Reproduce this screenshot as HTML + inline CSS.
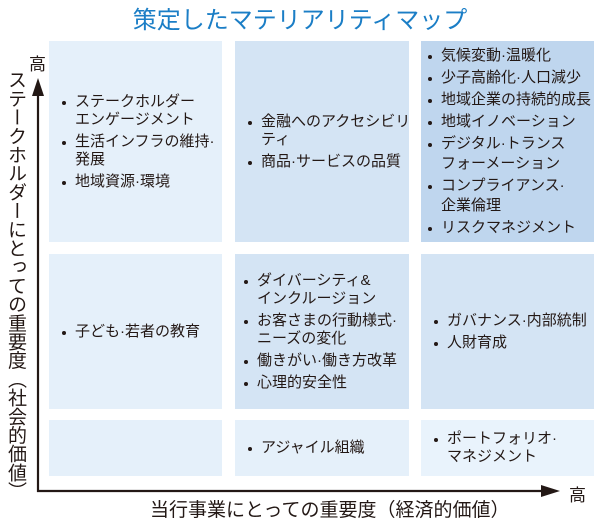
<!DOCTYPE html>
<html><head><meta charset="utf-8"><style>
body{margin:0;width:600px;height:523px;background:#fff;position:relative;overflow:hidden;font-family:"Liberation Sans","Noto Sans CJK JP",sans-serif;color:#231815}
.t{position:absolute;left:0;width:600px;top:0px;text-align:center;color:#1b7ec6;font-size:24px;letter-spacing:0px}
.c{position:absolute;box-sizing:border-box;padding-left:12px;display:flex;flex-direction:column;justify-content:center;font-size:15px}
.l{background:#e5f0fa}.m{background:#d4e4f4}.d{background:#bfd6ee}.x{background:#e9f3fc}
ul{margin:0;padding:0;list-style:none}
li{position:relative;padding-left:14px;line-height:18px;margin:4px 0;white-space:nowrap}
li:before{content:"";position:absolute;left:1px;top:8px;width:4px;height:4px;border-radius:50%;background:#231815}
.tight li{margin:2px 0;line-height:20px}
.tight li:before{top:9px}
</style></head><body>
<div class="t">策定したマテリアリティマップ</div>
<div class="c l" style="left:49px;top:41px;width:173px;height:201px"><ul><li>ステークホルダー<br>エンゲージメント</li><li>生活インフラの維持·<br>発展</li><li>地域資源·環境</li></ul></div>
<div class="c m" style="left:235px;top:41px;width:174px;height:201px"><ul><li>金融へのアクセシビリ<br>ティ</li><li>商品·サービスの品質</li></ul></div>
<div class="c d tight" style="left:421px;top:41px;width:173px;height:201px;padding-left:6px"><ul><li>気候変動·温暖化</li><li>少子高齢化·人口減少</li><li>地域企業の持続的成長</li><li>地域イノベーション</li><li>デジタル·トランス<br>フォーメーション</li><li>コンプライアンス·<br>企業倫理</li><li>リスクマネジメント</li></ul></div>
<div class="c l" style="left:49px;top:254px;width:173px;height:155px"><ul><li>子ども·若者の教育</li></ul></div>
<div class="c m" style="left:235px;top:254px;width:174px;height:155px;padding-left:8px"><ul><li>ダイバーシティ&amp;<br>インクルージョン</li><li>お客さまの行動様式·<br>ニーズの変化</li><li>働きがい·働き方改革</li><li>心理的安全性</li></ul></div>
<div class="c m" style="left:421px;top:254px;width:173px;height:155px"><ul><li>ガバナンス·内部統制</li><li>人財育成</li></ul></div>
<div class="c l" style="left:49px;top:420px;width:173px;height:56px"></div>
<div class="c l" style="left:235px;top:420px;width:174px;height:56px"><ul><li>アジャイル組織</li></ul></div>
<div class="c x" style="left:421px;top:420px;width:173px;height:56px"><ul><li>ポートフォリオ·<br>マネジメント</li></ul></div>
<svg style="position:absolute;left:0;top:0" width="600" height="523">
<line x1="38" y1="492" x2="38" y2="92" stroke="#231815" stroke-width="2.2"/>
<polygon points="38,78 32,96 44,96" fill="#231815"/>
<line x1="37" y1="491" x2="545" y2="491" stroke="#231815" stroke-width="2.2"/>
<polygon points="560,491 541,485 541,497" fill="#231815"/>
</svg>
<div style="position:absolute;left:29px;top:50px;font-size:17px">高</div>
<div style="position:absolute;left:569px;top:481px;font-size:17px">高</div>
<div style="position:absolute;left:3px;top:70px;writing-mode:vertical-rl;font-size:19px;line-height:24px;letter-spacing:-0.3px">ステークホルダーにとっての重要度（社会的価値）</div>
<div style="position:absolute;left:150px;top:495px;font-size:19px">当行事業にとっての重要度（経済的価値）</div>
</body></html>
